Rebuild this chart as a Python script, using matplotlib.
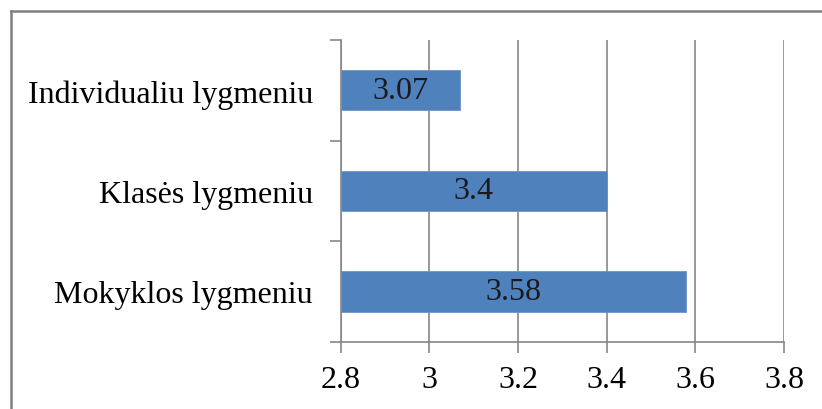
import matplotlib.pyplot as plt
from matplotlib.lines import Line2D

# survey means by level
categories = ["Mokyklos lygmeniu", "Klasės lygmeniu", "Individualiu lygmeniu"]
values = [3.58, 3.4, 3.07]
x_ticks = [2.8, 3.0, 3.2, 3.4, 3.6, 3.8]
x_tick_labels = ["2.8", "3", "3.2", "3.4", "3.6", "3.8"]

plt.rcParams["font.family"] = ["Liberation Serif", "DejaVu Serif"]

fig = plt.figure(figsize=(8.22, 4.10), dpi=100)
ax = fig.add_axes([340.7 / 822, 1 - 342.7 / 410, (784 - 340.7) / 822, (342.7 - 41) / 410])

x_min = 2.8
bar_color = "#4F81BD"
grid_color = "#868686"
fs = 23

ypos = list(range(len(categories)))
bars = ax.barh(ypos, [v - x_min for v in values], left=x_min, height=0.4,
               color=bar_color, edgecolor="#6D95C8", linewidth=0.6, zorder=3)

for y, v in zip(ypos, values):
    ax.text((x_min + v) / 2, y, f"{v:g}", ha="center", va="center",
            fontsize=fs, color="#1a1a1a", zorder=4)

ax.set_xlim(2.8, 3.8)
ax.set_ylim(-0.5, len(categories) - 0.5)
ax.set_xticks(x_ticks)
ax.set_xticklabels(x_tick_labels, fontsize=fs)
ax.set_yticks([-0.5, 0.5, 1.5, 2.5])
ax.set_yticklabels([])
ax.set_yticks(ypos, minor=True)
ax.set_yticklabels(categories, minor=True, fontsize=fs)
ax.tick_params(axis="y", which="minor", length=0, pad=20)
ax.tick_params(axis="y", which="major", length=8, color=grid_color, width=1.2)
ax.tick_params(axis="x", length=8, color=grid_color, width=1.2, pad=9)

ax.xaxis.grid(True, color=grid_color, linewidth=1.2, zorder=0)
ax.set_axisbelow(True)
for side in ["top", "right"]:
    ax.spines[side].set_visible(False)
for side in ["left", "bottom"]:
    ax.spines[side].set_color(grid_color)
    ax.spines[side].set_linewidth(1.2)

# chart frame
fig.add_artist(Line2D([10.5 / 822, 10.5 / 822], [0, 1 - 12 / 410],
                      transform=fig.transFigure, color="#7f7f7f", linewidth=1.8))
fig.add_artist(Line2D([10.5 / 822, 1], [1 - 12 / 410, 1 - 12 / 410],
                      transform=fig.transFigure, color="#7f7f7f", linewidth=1.8))

fig.savefig("out.png", dpi=100)
